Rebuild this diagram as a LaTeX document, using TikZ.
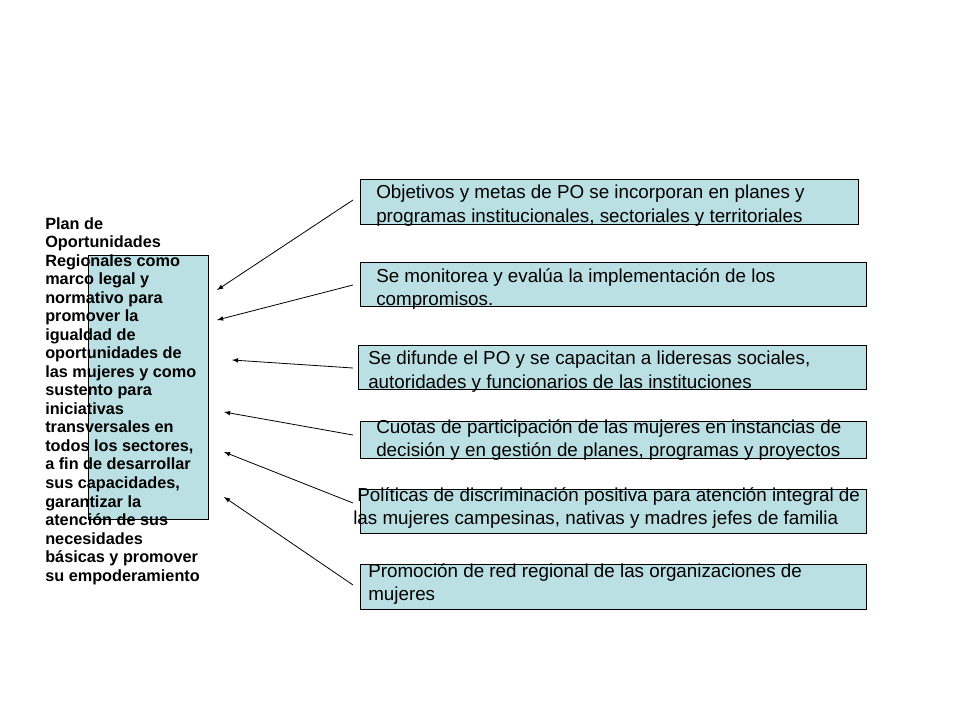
\documentclass[tikz,border=0pt]{standalone}
\usepackage{fontspec}
\setmainfont{Liberation Sans}
\begin{document}
\begin{tikzpicture}[x=0.75pt,y=-0.75pt,
  bx/.style={draw=black,fill=boxc,line width=0.6pt},
  rt/.style={anchor=north west,align=left,font=\fontsize{14.1}{17.5}\selectfont,inner sep=0pt},
  ar/.style={-latex,line width=0.6pt}]
\definecolor{boxc}{HTML}{BBE0E3}
\useasboundingbox (0,0) rectangle (960,720);
\node[bx,minimum width=120*0.75pt,minimum height=264*0.75pt,anchor=north west,inner sep=0pt] (L) at (88,255) {};
\node[anchor=north west,align=left,inner sep=0pt,font=\bfseries\fontsize{12.2}{13.9}\selectfont] (LT) at (45,217) {Plan de\\Oportunidades\\Regionales como\\marco legal y\\normativo para\\promover la\\igualdad de\\oportunidades de\\las mujeres y como\\sustento para\\iniciativas\\transversales en\\todos los sectores,\\a fin de desarrollar\\sus capacidades,\\garantizar la\\atención de sus\\necesidades\\básicas y promover\\su empoderamiento};
\draw[bx] (360,179) rectangle (858,224);
\node[rt] (t1) at (376,185) {Objetivos y metas de PO se incorporan en planes y\\programas institucionales, sectoriales y territoriales};
\draw[bx] (360,262) rectangle (866,306);
\node[rt] (t2) at (376,268) {Se monitorea y evalúa la implementación de los\\compromisos.};
\draw[bx] (358,345) rectangle (866,389);
\node[rt] (t3) at (368,351) {Se difunde el PO y se capacitan a lideresas sociales,\\autoridades y funcionarios de las instituciones};
\draw[bx] (360,421) rectangle (866,458);
\node[rt] (t4) at (376,419) {Cuotas de participación de las mujeres en instancias de\\decisión y en gestión de planes, programas y proyectos};
\draw[bx] (360,489) rectangle (866,533);
\node[rt] (t5) at (353,487) {\hspace*{3pt}Políticas de discriminación positiva para atención integral de\\las mujeres campesinas, nativas y madres jefes de familia};
\draw[bx] (360,564) rectangle (866,609);
\node[rt] (t6) at (368,563) {Promoción de red regional de las organizaciones de\\mujeres};
\coordinate (s1) at (353,200); \coordinate (e1) at (217,290);
\coordinate (s2) at (353,285); \coordinate (e2) at (217,320);
\coordinate (s3) at (353,368); \coordinate (e3) at (232,360);
\coordinate (s4) at (353,435); \coordinate (e4) at (224,412);
\coordinate (s5) at (353,503); \coordinate (e5) at (224,452);
\coordinate (s6) at (353,585); \coordinate (e6) at (224,497);
\foreach \i in {1,...,6} \draw[ar] (s\i) -- (e\i);
\end{tikzpicture}
\end{document}
